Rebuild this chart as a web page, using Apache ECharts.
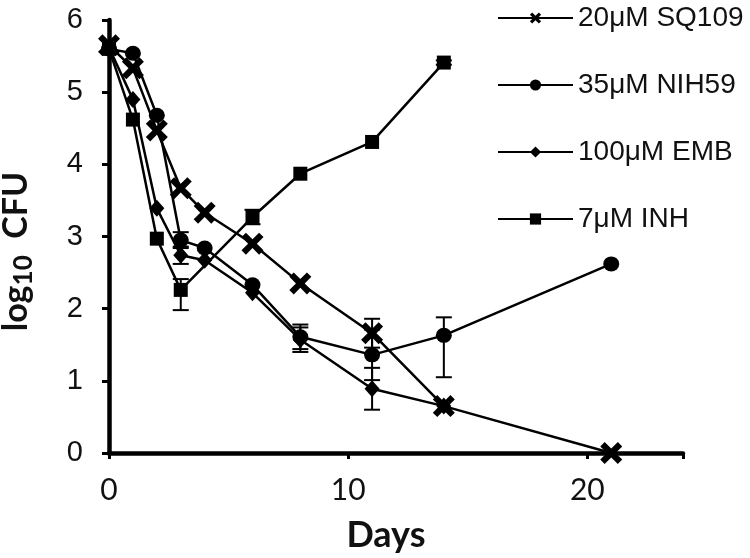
<!DOCTYPE html>
<html>
<head>
<meta charset="utf-8">
<script src="https://cdn.jsdelivr.net/npm/echarts@6/dist/echarts.min.js"></script>
<style>
html,body{margin:0;padding:0;background:#fff;}
#chart{width:750px;height:558px;}
</style>
</head>
<body>
<div id="chart"></div>
<script>
// ---- data ----
const days = [0, 1, 2, 3, 4, 6, 8, 11, 14, 21];
const seriesNames = ['20μM SQ109', '35μM NIH59', '100μM EMB', '7μM INH'];
const sq109 = [5.65, 5.33, 4.47, 3.67, 3.33, 2.90, 2.35, 1.66, 0.65, 0];
const nih59 = [5.60, 5.54, 4.68, 2.95, 2.84, 2.33, 1.61, 1.36, 1.63, 2.62];
const emb   = [5.62, 4.90, 3.39, 2.74, 2.67, 2.22, 1.57, 0.89, 0.65, null];
const inh   = [5.60, 4.62, 2.97, 2.26, null, 3.27, 3.87, 4.31, 5.41, null];
// error bars (plus / minus)
const sq109ErrUp   = [0, 0, 0, 0, 0, 0, 0, 0.20, 0, 0];
const sq109ErrDown = [0, 0, 0, 0, 0, 0, 0, 0.20, 0, 0];
const nih59ErrUp   = [0, 0, 0, 0.11, 0, 0, 0.17, 0.35, 0.25, 0];
const nih59ErrDown = [0, 0, 0, 0.11, 0, 0, 0.17, 0.35, 0.58, 0];
const embErrUp     = [0, 0, 0, 0.12, 0, 0, 0.17, 0.29, 0, 0];
const embErrDown   = [0, 0, 0, 0.12, 0, 0, 0.17, 0.29, 0, 0];
const inhErrUp     = [0, 0, 0, 0.15, 0, 0.10, 0, 0, 0.03, 0];
const inhErrDown   = [0, 0, 0, 0.28, 0, 0.10, 0, 0, 0.03, 0];
const yTicks = [0, 1, 2, 3, 4, 5, 6];
const xTicks = [0, 10, 20];

const crossPath = 'path://M4,0 L10,6 L16,0 L20,4 L14,10 L20,16 L16,20 L10,14 L4,20 L0,16 L6,10 L0,4 Z';

function pts(vals) {
  const out = [];
  days.forEach((d, i) => { if (vals[i] !== null) out.push([d, vals[i]]); });
  return out;
}
function errPts(vals, up, down) {
  const out = [];
  days.forEach((d, i) => {
    if (vals[i] !== null && (up[i] > 0 || down[i] > 0)) out.push([d, vals[i] - down[i], vals[i] + up[i]]);
  });
  return out;
}

const lineStyle = { color: '#000', width: 2.5 };
function lineSeries(name, vals, symbol, size) {
  return {
    name: name, type: 'line', data: pts(vals), connectNulls: true,
    symbol: symbol, symbolSize: size, showAllSymbol: true,
    lineStyle: lineStyle, itemStyle: { color: '#000', borderWidth: 0 },
    emphasis: { disabled: true }, animation: false, z: 3
  };
}
function errSeries(data) {
  return {
    type: 'custom', data: data, animation: false, z: 2, silent: true,
    renderItem: function (params, api) {
      const x = api.value(0), lo = api.value(1), hi = api.value(2);
      const a = api.coord([x, lo]), b = api.coord([x, hi]);
      const w = 8;
      const st = { stroke: '#000', lineWidth: 2 };
      return { type: 'group', children: [
        { type: 'line', shape: { x1: a[0], y1: a[1], x2: b[0], y2: b[1] }, style: st },
        { type: 'line', shape: { x1: a[0] - w, y1: a[1], x2: a[0] + w, y2: a[1] }, style: st },
        { type: 'line', shape: { x1: b[0] - w, y1: b[1], x2: b[0] + w, y2: b[1] }, style: st }
      ]};
    }
  };
}

const chart = echarts.init(document.getElementById('chart'), null, { renderer: 'canvas' });
chart.setOption({
  animation: false,
  backgroundColor: '#fff',
  grid: { left: 109, right: 67, top: 20, bottom: 105, containLabel: false, outerBoundsMode: 'none' },
  legend: {
    orient: 'vertical', left: 492, top: -2,
    itemWidth: 75, itemHeight: 14, itemGap: 37,
    data: seriesNames,
    textStyle: { fontFamily: 'Liberation Sans, Arial', fontSize: 28, color: '#111', lineHeight: 30 },
    selectedMode: false
  },
  xAxis: {
    type: 'value', min: 0, max: 24, interval: 10,
    name: 'Days', nameLocation: 'middle', nameGap: 64,
    nameTextStyle: { fontFamily: 'Lato', fontWeight: 'bold', fontSize: 36, color: '#111', padding: [0, 20, 0, 0] },
    axisLine: { show: true, lineStyle: { color: '#000', width: 4.5 } },
    axisTick: { show: true, inside: false, length: 6, lineStyle: { color: '#000', width: 3 } },
    axisLabel: { fontFamily: 'Lato', fontSize: 30, color: '#111', margin: 22,
      formatter: function (v) { return xTicks.indexOf(v) >= 0 ? String(v) : ''; } },
    splitLine: { show: false }
  },
  yAxis: {
    type: 'value', min: 0, max: 6, interval: 1,
    name: '{a|log}{b|10}{a|  CFU}', nameLocation: 'middle', nameGap: 72,
    nameTextStyle: {
      padding: [0, 30, 0, 0],
      rich: {
        a: { fontFamily: 'Lato', fontWeight: 'bold', fontSize: 34, color: '#111' },
        b: { fontFamily: 'Lato', fontWeight: 'bold', fontSize: 26, color: '#111', padding: [16, 0, 0, 0] }
      }
    },
    axisLine: { show: true, lineStyle: { color: '#000', width: 4.5 } },
    axisTick: { show: true, inside: false, length: 7, lineStyle: { color: '#000', width: 3 } },
    axisLabel: { fontFamily: 'Liberation Sans, Arial', fontSize: 29, color: '#111', margin: 26,
      formatter: function (v) { return yTicks.indexOf(v) >= 0 ? String(v) : ''; } },
    splitLine: { show: false }
  },
  series: [
    errSeries(errPts(sq109, sq109ErrUp, sq109ErrDown)),
    errSeries(errPts(nih59, nih59ErrUp, nih59ErrDown)),
    errSeries(errPts(emb, embErrUp, embErrDown)),
    errSeries(errPts(inh, inhErrUp, inhErrDown)),
    lineSeries(seriesNames[3], inh, 'rect', 14),
    lineSeries(seriesNames[2], emb, 'diamond', [15, 17]),
    lineSeries(seriesNames[1], nih59, 'circle', [16, 15]),
    lineSeries(seriesNames[0], sq109, crossPath, 22)
  ]
});
</script>
</body>
</html>
